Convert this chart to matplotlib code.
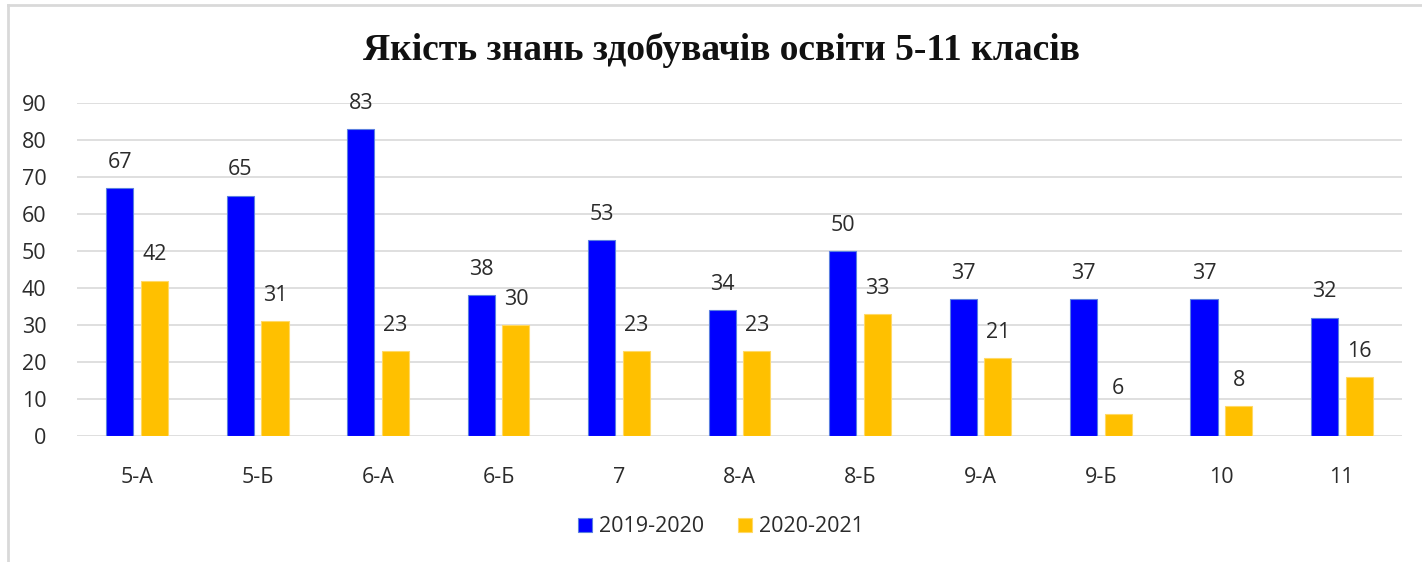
import matplotlib.pyplot as plt
import numpy as np
from matplotlib.lines import Line2D

classes = ["5-А", "5-Б", "6-А", "6-Б", "7", "8-А", "8-Б", "9-А", "9-Б", "10", "11"]
year_2019 = [67, 65, 83, 38, 53, 34, 50, 37, 37, 37, 32]
year_2020 = [42, 31, 23, 30, 23, 23, 33, 21, 6, 8, 16]
series_names = ["2019-2020", "2020-2021"]
yticks = [0, 10, 20, 30, 40, 50, 60, 70, 80, 90]

TEXT = "#2b2b2b"
GRID = "#D9D9D9"
BLUE = "#0000FF"
GOLD = "#FFC000"

plt.rcParams['font.family'] = ['Open Sans', 'DejaVu Sans']


def main():
    fig = plt.figure(figsize=(14.22, 5.62), dpi=100)
    ax = fig.add_axes([77 / 1422, 1 - 436 / 562, (1402 - 77) / 1422, 333 / 562])

    x = np.arange(len(classes))
    w = 0.225
    off = 0.144
    b1 = ax.bar(x - off, year_2019, w, color=BLUE, edgecolor="#5B7FE0", linewidth=0.8,
                label=series_names[0], zorder=3)
    b2 = ax.bar(x + off, year_2020, w, color=GOLD, edgecolor="#FFD966", linewidth=0.8,
                label=series_names[1], zorder=3)
    for bars in (b1, b2):
        ax.bar_label(bars, padding=11, fontsize=15.5, color=TEXT)

    ax.set_xlim(-0.5, len(classes) - 0.5)
    ax.set_ylim(0, 90)
    ax.set_yticks(yticks)
    ax.set_xticks(x)
    ax.set_xticklabels(classes)
    ax.tick_params(axis="both", length=0, labelsize=15.5, colors=TEXT)
    ax.tick_params(axis="x", pad=22)
    ax.tick_params(axis="y", pad=22)
    ax.grid(axis="y", color=GRID, linewidth=1.2, zorder=0)
    for s in ax.spines.values():
        s.set_visible(False)

    fig.text(0.507, 1 - 50 / 562, "Якість знань здобувачів освіти 5-11 класів",
             ha="center", va="center", fontsize=27, fontweight="bold",
             family="Liberation Serif", color="#111111")

    fig.legend(handles=[b1, b2], labels=series_names, loc="center",
               bbox_to_anchor=(0.507, 1 - 527 / 562), ncol=2, frameon=False,
               fontsize=15.5, labelcolor=TEXT, handlelength=0.65, handleheight=0.65,
               handletextpad=0.3, columnspacing=1.6)

    # chart frame (left and top edges visible)
    fig.add_artist(Line2D([8 / 1422, 8 / 1422], [0, 1 - 5 / 562], transform=fig.transFigure,
                          color=GRID, linewidth=2))
    fig.add_artist(Line2D([8 / 1422, 1], [1 - 5 / 562, 1 - 5 / 562], transform=fig.transFigure,
                          color=GRID, linewidth=2))

    fig.savefig("out.png", dpi=100)


if __name__ == "__main__":
    main()
